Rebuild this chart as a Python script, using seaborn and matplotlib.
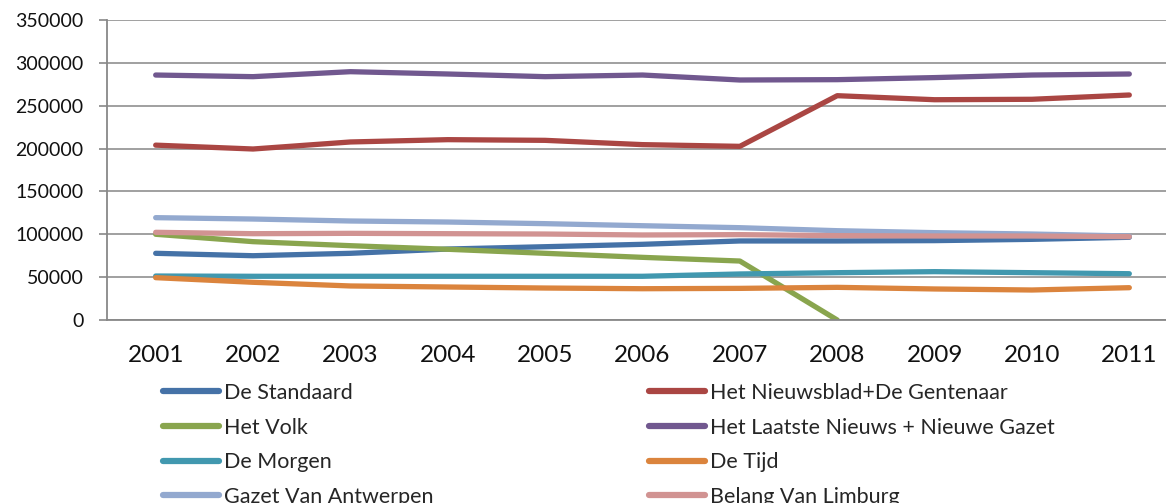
import matplotlib
matplotlib.use("Agg")
import matplotlib.pyplot as plt
import seaborn as sns
import pandas as pd
from matplotlib.ticker import FixedLocator

years = ["2001", "2002", "2003", "2004", "2005", "2006", "2007", "2008", "2009", "2010", "2011"]

de_standaard = [77800, 75000, 77800, 82800, 85500, 88300, 92200, 92200, 92600, 94100, 96500]
het_nieuwsblad = [204000, 199500, 207700, 210400, 209600, 204600, 202600, 261700, 257000, 257500, 262500]
het_volk = [100000, 91400, 86700, 82500, 77800, 73100, 68800, 0, None, None, None]
het_laatste_nieuws = [285800, 283900, 289700, 287000, 283900, 285800, 280000, 280400, 282800, 285800, 287000]
de_morgen = [51300, 51000, 51000, 51000, 51000, 51000, 53700, 55200, 56400, 55200, 54000]
de_tijd = [49400, 44000, 39700, 38500, 37300, 36500, 36900, 38100, 36200, 35000, 37700]
gazet_van_antwerpen = [119400, 117800, 115500, 114300, 112400, 110000, 107700, 104200, 101900, 100300, 98000]
belang_van_limburg = [102300, 100700, 101100, 100700, 100300, 99200, 99600, 98400, 98000, 98000, 97200]

series_names = ["De Standaard", "Het Nieuwsblad+De Gentenaar", "Het Volk",
                "Het Laatste Nieuws + Nieuwe Gazet", "De Morgen", "De Tijd",
                "Gazet Van Antwerpen", "Belang Van Limburg"]
series_values = [de_standaard, het_nieuwsblad, het_volk, het_laatste_nieuws,
                 de_morgen, de_tijd, gazet_van_antwerpen, belang_van_limburg]
colors = ["#4572A7", "#AA4643", "#89A54E", "#71588F", "#4198AF", "#DB843D", "#93A9CF", "#D19392"]

rows = []
for name, vals in zip(series_names, series_values):
    for i, v in enumerate(vals):
        if v is not None:
            rows.append({"Year": i, "Value": v, "Paper": name})
df = pd.DataFrame(rows)

sns.set_style("white")
plt.rcParams['font.family'] = ['Lato', 'DejaVu Sans']

fig = plt.figure(figsize=(11.66, 5.03), dpi=100)
ax = fig.add_axes([107/1166, (503-320)/503, (1178-107)/1166, 300/503])

sns.lineplot(data=df, x="Year", y="Value", hue="Paper", hue_order=series_names,
             palette=colors, linewidth=3.8, ax=ax, legend=True, sort=False,
             solid_capstyle="round")

ax.set_xlim(-0.5, 10.5)
ax.set_ylim(0, 350000)
ax.set_yticks(range(0, 350001, 50000))
ax.set_yticklabels([str(v) for v in range(0, 350001, 50000)], fontsize=14, color="#111111")
ax.set_xticks(range(len(years)))
ax.set_xticklabels(years, fontsize=17.5, color="#111111")
ax.xaxis.set_minor_locator(FixedLocator([i - 0.5 for i in range(len(years) + 1)]))
ax.tick_params(axis="x", which="major", length=0, pad=18)
ax.tick_params(axis="x", which="minor", length=6, width=1.2, color="#888888", direction="out")
ax.tick_params(axis="y", which="major", length=6, width=1.2, color="#888888", direction="out", pad=11, left=True)
ax.grid(axis="y", color="#999999", linewidth=1.3)
ax.set_axisbelow(True)
for s in ["top", "right"]:
    ax.spines[s].set_visible(False)
for s in ["left", "bottom"]:
    ax.spines[s].set_color("#888888")
    ax.spines[s].set_linewidth(1.3)
ax.set_xlabel("")
ax.set_ylabel("")

handles, labels = ax.get_legend_handles_labels()
ax.get_legend().remove()
order = [0, 2, 4, 6, 1, 3, 5, 7]
h2 = [handles[i] for i in order]
l2 = [labels[i] for i in order]
for h in h2:
    h.set_linewidth(4.5)
leg = fig.legend(h2, l2, ncol=2, loc="upper left", bbox_to_anchor=(163/1166, 1 - 383/503),
                 frameon=False, fontsize=15.5, handlelength=2.6, handletextpad=0.25,
                 columnspacing=10.0, labelspacing=0.68, borderaxespad=0, borderpad=0)

fig.savefig("out.png", dpi=100)
